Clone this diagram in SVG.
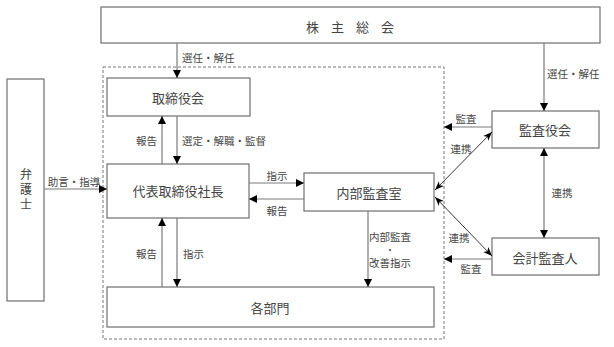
<svg xmlns="http://www.w3.org/2000/svg" width="614" height="347" viewBox="0 0 614 347">
<style>
.box{fill:#fff;stroke:#6e6e6e;stroke-width:1.2}
.t{font-family:"Noto Sans CJK JP","Noto Sans CJK SC",sans-serif;fill:#444;dominant-baseline:central;text-anchor:middle}
.big{font-size:13px}
.sm{font-size:10.5px}
.ln{stroke:#7a7a7a;stroke-width:1.2;fill:none}
.dg{stroke:#222;stroke-width:0.9;fill:none}
</style>
<defs>
<marker id="ah" markerUnits="userSpaceOnUse" markerWidth="8" markerHeight="8" refX="8" refY="4" orient="auto-start-reverse" viewBox="0 0 8 8">
<path d="M0,0 L8,4 L0,8 z" fill="#000"/>
</marker>
<marker id="ah2" markerUnits="userSpaceOnUse" markerWidth="9" markerHeight="8" refX="9" refY="4" orient="auto-start-reverse" viewBox="0 0 9 8">
<path d="M0,0.5 L9,4 L0,7.5 L2.5,4 z" fill="#000"/>
</marker>
</defs>
<rect id="frame" x="103" y="67" width="341" height="272" fill="none" stroke="#777" stroke-width="1" stroke-dasharray="3,2"/>
<g id="kabunushi"><rect class="box" x="101" y="7" width="499" height="36"/><text class="t big" x="350" y="26" letter-spacing="12" dx="6">株主総会</text></g>
<g id="torishimariyakukai"><rect class="box" x="107" y="78" width="143" height="38"/><text class="t big" x="178" y="97">取締役会</text></g>
<g id="daihyo"><rect class="box" x="107" y="164" width="142" height="54"/><text class="t big" x="178" y="190">代表取締役社長</text></g>
<g id="naibu"><rect class="box" x="304" y="173" width="130" height="38"/><text class="t big" x="369" y="192">内部監査室</text></g>
<g id="kakubumon"><rect class="box" x="107" y="287" width="327" height="40"/><text class="t big" x="270" y="307">各部門</text></g>
<g id="kansayakukai"><rect class="box" x="492" y="111" width="107" height="37"/><text class="t big" x="545" y="129">監査役会</text></g>
<g id="kaikei"><rect class="box" x="492" y="238" width="107" height="37"/><text class="t big" x="545" y="257">会計監査人</text></g>
<g id="bengoshi"><rect class="box" x="7" y="79" width="37" height="222"/><text class="t" style="font-size:12px;writing-mode:vertical-rl" letter-spacing="3" x="26" y="191">弁護士</text></g>
<g id="connectors">
<line class="ln" x1="177" y1="43" x2="177" y2="78" marker-end="url(#ah)"/>
<line class="ln" x1="544" y1="43" x2="544" y2="111" marker-end="url(#ah)"/>
<line class="ln" x1="177" y1="116" x2="177" y2="164" marker-end="url(#ah)"/>
<line class="ln" x1="162" y1="164" x2="162" y2="116" marker-end="url(#ah)"/>
<line class="ln" x1="249" y1="183" x2="304" y2="183" marker-end="url(#ah)"/>
<line class="ln" x1="304" y1="199" x2="249" y2="199" marker-end="url(#ah)"/>
<line class="ln" x1="177" y1="218" x2="177" y2="287" marker-end="url(#ah)"/>
<line class="ln" x1="162" y1="287" x2="162" y2="218" marker-end="url(#ah)"/>
<line class="ln" x1="44" y1="189" x2="107" y2="189" stroke="#333" marker-end="url(#ah)"/>
<line class="ln" x1="368" y1="211" x2="368" y2="287" marker-end="url(#ah)"/>
<line class="ln" x1="492" y1="127" x2="444" y2="127" marker-end="url(#ah)"/>
<line class="ln" x1="492" y1="259" x2="444" y2="259" marker-end="url(#ah)"/>
<line class="ln" x1="544" y1="148" x2="544" y2="238" marker-start="url(#ah)" marker-end="url(#ah)"/>
<line class="dg" x1="492" y1="132" x2="435" y2="190" marker-start="url(#ah2)" marker-end="url(#ah2)"/>
<line class="dg" x1="435" y1="197" x2="492" y2="256" marker-start="url(#ah2)" marker-end="url(#ah2)"/>
<text class="t sm" x="182" y="57" style="text-anchor:start">選任・解任</text>
<text class="t sm" x="547" y="73" style="text-anchor:start">選任・解任</text>
<text class="t sm" x="157" y="140" style="text-anchor:end">報告</text>
<text class="t sm" x="182" y="140" style="text-anchor:start">選定・解職・監督</text>
<text class="t sm" x="277" y="175">指示</text>
<text class="t sm" x="277" y="210">報告</text>
<text class="t sm" x="157" y="253" style="text-anchor:end">報告</text>
<text class="t sm" x="183" y="253" style="text-anchor:start">指示</text>
<text class="t sm" x="390" y="236">内部監査</text>
<text class="t" style="font-size:9px" x="390" y="249">・</text>
<text class="t sm" x="390" y="262">改善指示</text>
<text class="t sm" x="466" y="118">監査</text>
<text class="t sm" x="461" y="148">連携</text>
<text class="t sm" x="562" y="192">連携</text>
<text class="t sm" x="459" y="237">連携</text>
<text class="t sm" x="471" y="268">監査</text>
<text class="t sm" x="74" y="181">助言・指導</text>
</g>
</svg>
